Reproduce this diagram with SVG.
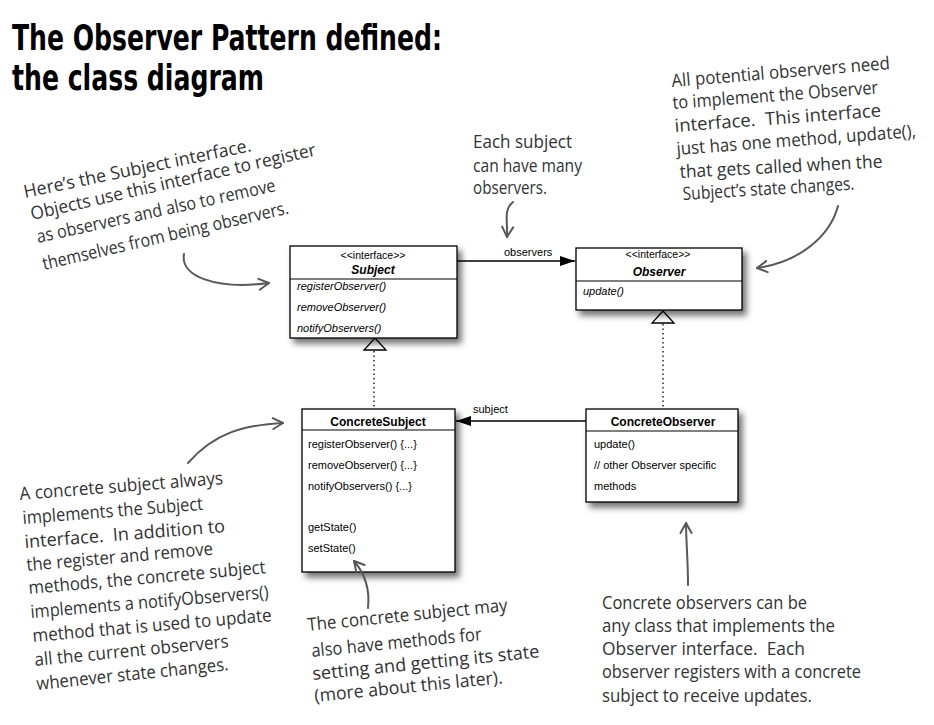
<svg xmlns="http://www.w3.org/2000/svg" width="934" height="725" viewBox="0 0 934 725">
<style>
.box{fill:#fff;stroke:#000;stroke-width:1.3}
.div{stroke:#000;stroke-width:1.2}
.uml{font-family:"Liberation Sans",Arial,sans-serif;font-size:11px;fill:#000}
.st{font-size:10.5px;text-anchor:middle}
.name{font-weight:bold;font-size:12px;text-anchor:middle}
.it{font-style:italic}
.hand{font-family:"Open Sans","DejaVu Sans",sans-serif;font-size:18px;fill:#333;white-space:pre}
.title{font-family:"DejaVu Sans Condensed","DejaVu Sans",sans-serif;font-weight:bold;font-size:36px;fill:#000}
.na{fill:none;stroke:#585858;stroke-width:2;stroke-linecap:round;marker-end:url(#chev)}
.assoc{fill:none;stroke:#000;stroke-width:1.6;marker-end:url(#fill)}
.dot{fill:none;stroke:#000;stroke-width:1.3;stroke-dasharray:1.5 3}
.tri{fill:#fff;stroke:#000;stroke-width:1.3}
.lbl{font-family:"Liberation Sans",Arial,sans-serif;font-size:11px;fill:#000}
</style>
<defs>
<filter id="sh" x="-10%" y="-10%" width="130%" height="140%">
<feDropShadow dx="4" dy="5" stdDeviation="3" flood-color="#000" flood-opacity="0.55"/>
</filter>
<marker id="chev" markerUnits="userSpaceOnUse" viewBox="0 0 14 14" refX="12" refY="7" markerWidth="14" markerHeight="14" orient="auto">
<path d="M2,1.5 L12,7 L2,12.5" fill="none" stroke="#585858" stroke-width="2" stroke-linecap="round" stroke-linejoin="round"/>
</marker>
<marker id="fill" markerUnits="userSpaceOnUse" viewBox="0 0 15 10" refX="15" refY="5" markerWidth="15" markerHeight="10" orient="auto">
<path d="M0,0 L15,5 L0,10 z" fill="#000"/>
</marker>
</defs>
<rect width="934" height="725" fill="#fff"/>

<g id="title">
<text class="title" x="12" y="50" textLength="430" lengthAdjust="spacingAndGlyphs">The Observer Pattern defined:</text>
<text class="title" x="12" y="90" textLength="252" lengthAdjust="spacingAndGlyphs">the class diagram</text>
</g>

<g id="connectors">
<line class="assoc" x1="457" y1="261" x2="575" y2="261"/>
<text class="lbl" x="504" y="256">observers</text>
<line class="assoc" x1="586" y1="421" x2="456" y2="421"/>
<text class="lbl" x="473" y="413">subject</text>
<line class="dot" x1="374" y1="351" x2="374" y2="408"/>
<polygon class="tri" points="375,338 364,350 386,350"/>
<line class="dot" x1="663" y1="324" x2="663" y2="408"/>
<polygon class="tri" points="663,311 652,323 674,323"/>
</g>

<g id="subject">
<rect class="box" x="290" y="246" width="167" height="92" filter="url(#sh)"/>
<line class="div" x1="290" y1="279" x2="457" y2="279"/>
<text class="uml st" x="373" y="259">&lt;&lt;interface&gt;&gt;</text>
<text class="uml name it" x="373" y="274">Subject</text>
<text class="uml it" x="297" y="290">registerObserver()</text>
<text class="uml it" x="297" y="311">removeObserver()</text>
<text class="uml it" x="297" y="332">notifyObservers()</text>
</g>

<g id="observer">
<rect class="box" x="576" y="248" width="166" height="62" filter="url(#sh)"/>
<line class="div" x1="576" y1="281" x2="742" y2="281"/>
<text class="uml st" x="658" y="258">&lt;&lt;interface&gt;&gt;</text>
<text class="uml name it" x="659" y="276">Observer</text>
<text class="uml it" x="583" y="295">update()</text>
</g>

<g id="concreteSubject">
<rect class="box" x="302" y="409" width="153" height="163" filter="url(#sh)"/>
<line class="div" x1="302" y1="430" x2="455" y2="430"/>
<text class="uml name" x="378" y="426">ConcreteSubject</text>
<text class="uml" x="308" y="448">registerObserver() {...}</text>
<text class="uml" x="308" y="469">removeObserver() {...}</text>
<text class="uml" x="308" y="490">notifyObservers() {...}</text>
<text class="uml" x="308" y="531">getState()</text>
<text class="uml" x="308" y="552">setState()</text>
</g>

<g id="concreteObserver">
<rect class="box" x="586" y="409" width="152" height="93" filter="url(#sh)"/>
<line class="div" x1="586" y1="431" x2="738" y2="431"/>
<text class="uml name" x="663" y="426">ConcreteObserver</text>
<text class="uml" x="594" y="448">update()</text>
<text class="uml" x="594" y="469">// other Observer specific</text>
<text class="uml" x="594" y="490">methods</text>
</g>

<g id="note-subject-interface">
<text class="hand" transform="translate(25,198) rotate(-11.7)" textLength="232" lengthAdjust="spacingAndGlyphs">Here’s the Subject interface.</text>
<text class="hand" transform="translate(32,220) rotate(-12.8)" textLength="292" lengthAdjust="spacingAndGlyphs">Objects use this interface to register</text>
<text class="hand" transform="translate(38,243) rotate(-12.3)" textLength="244" lengthAdjust="spacingAndGlyphs">as observers and also to remove</text>
<text class="hand" transform="translate(44,270) rotate(-13)" textLength="252" lengthAdjust="spacingAndGlyphs">themselves from being observers.</text>
<path class="na" d="M184,254 C180,276 215,290 269,283"/>
</g>

<g id="note-many">
<text class="hand" x="473" y="148" textLength="99" lengthAdjust="spacingAndGlyphs">Each subject</text>
<text class="hand" x="473" y="172" textLength="109" lengthAdjust="spacingAndGlyphs">can have many</text>
<text class="hand" x="473" y="194" textLength="74" lengthAdjust="spacingAndGlyphs">observers.</text>
<path class="na" d="M513,202 C503,210 508,222 507,237"/>
</g>

<g id="note-observer-interface">
<text class="hand" transform="translate(672,87) rotate(-4.7)" textLength="219" lengthAdjust="spacingAndGlyphs">All potential observers need</text>
<text class="hand" transform="translate(673,109) rotate(-4.3)" textLength="206" lengthAdjust="spacingAndGlyphs">to implement the Observer</text>
<text class="hand" transform="translate(675,132) rotate(-4.3)" textLength="207" lengthAdjust="spacingAndGlyphs">interface.  This interface</text>
<text class="hand" transform="translate(677,155) rotate(-4.3)" textLength="240" lengthAdjust="spacingAndGlyphs">just has one method, update(),</text>
<text class="hand" transform="translate(680,178) rotate(-3)" textLength="203" lengthAdjust="spacingAndGlyphs">that gets called when the</text>
<text class="hand" transform="translate(683,200) rotate(-3.5)" textLength="172" lengthAdjust="spacingAndGlyphs">Subject’s state changes.</text>
<path class="na" d="M838,206 C830,236 800,262 757,268"/>
</g>

<g id="note-concrete-subject">
<text class="hand" transform="translate(20,500) rotate(-4.5)" textLength="204" lengthAdjust="spacingAndGlyphs">A concrete subject always</text>
<text class="hand" transform="translate(23,524) rotate(-4.5)" textLength="181" lengthAdjust="spacingAndGlyphs">implements the Subject</text>
<text class="hand" transform="translate(25,548) rotate(-4.5)" textLength="201" lengthAdjust="spacingAndGlyphs">interface.  In addition to</text>
<text class="hand" transform="translate(27,571) rotate(-5)" textLength="187" lengthAdjust="spacingAndGlyphs">the register and remove</text>
<text class="hand" transform="translate(29,594) rotate(-5)" textLength="238" lengthAdjust="spacingAndGlyphs">methods, the concrete subject</text>
<text class="hand" transform="translate(31,618) rotate(-4.8)" textLength="239" lengthAdjust="spacingAndGlyphs">implements a notifyObservers()</text>
<text class="hand" transform="translate(33,642) rotate(-5)" textLength="240" lengthAdjust="spacingAndGlyphs">method that is used to update</text>
<text class="hand" transform="translate(35,666) rotate(-5.5)" textLength="195" lengthAdjust="spacingAndGlyphs">all the current observers</text>
<text class="hand" transform="translate(37,690) rotate(-5.9)" textLength="193" lengthAdjust="spacingAndGlyphs">whenever state changes.</text>
<path class="na" d="M188,463 C215,432 245,425 283,423"/>
</g>

<g id="note-state">
<text class="hand" transform="translate(308,631) rotate(-5.7)" textLength="201" lengthAdjust="spacingAndGlyphs">The concrete subject may</text>
<text class="hand" transform="translate(312,657) rotate(-5.7)" textLength="171" lengthAdjust="spacingAndGlyphs">also have methods for</text>
<text class="hand" transform="translate(313,680) rotate(-5.7)" textLength="228" lengthAdjust="spacingAndGlyphs">setting and getting its state</text>
<text class="hand" transform="translate(315,702) rotate(-5.7)" textLength="189" lengthAdjust="spacingAndGlyphs">(more about this later).</text>
<path class="na" d="M368,608 C370,590 366,575 354,561"/>
</g>

<g id="note-concrete-observer">
<text class="hand" x="602" y="609" textLength="205" lengthAdjust="spacingAndGlyphs">Concrete observers can be</text>
<text class="hand" x="602" y="632" textLength="233" lengthAdjust="spacingAndGlyphs">any class that implements the</text>
<text class="hand" x="602" y="655" textLength="203" lengthAdjust="spacingAndGlyphs">Observer interface.  Each</text>
<text class="hand" x="602" y="678" textLength="259" lengthAdjust="spacingAndGlyphs">observer registers with a concrete</text>
<text class="hand" x="602" y="702" textLength="210" lengthAdjust="spacingAndGlyphs">subject to receive updates.</text>
<path class="na" d="M688,585 C688,560 686,540 686,523"/>
</g>
</svg>
